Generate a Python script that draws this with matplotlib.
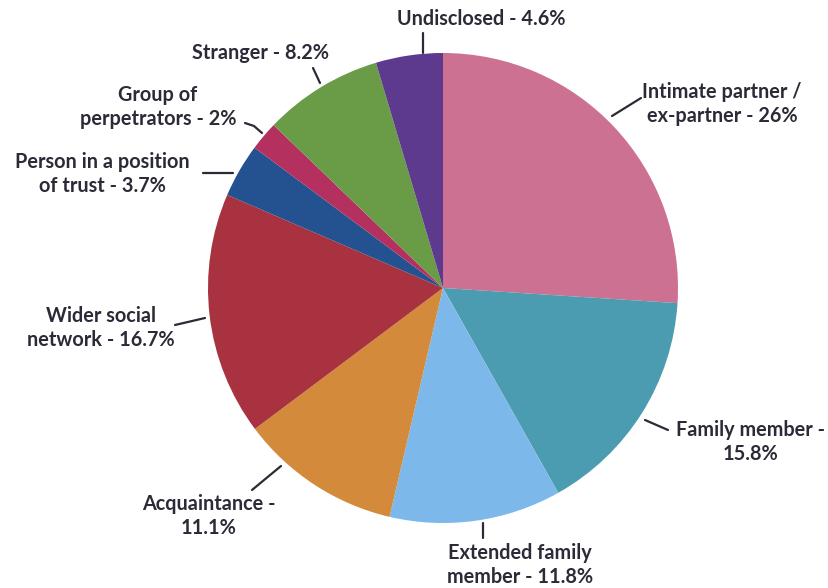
import matplotlib
matplotlib.use("Agg")
import matplotlib.pyplot as plt

# shares of perpetrator types, clockwise from 12 o'clock
labels = [
    "Intimate partner /\nex-partner - 26%",
    "Family member -\n15.8%",
    "Extended family\nmember - 11.8%",
    "Acquaintance -\n11.1%",
    "Wider social\nnetwork - 16.7%",
    "Person in a position\nof trust - 3.7%",
    "Group of\nperpetrators - 2%",
    "Stranger - 8.2%",
    "Undisclosed - 4.6%",
]
values = [26, 15.8, 11.8, 11.1, 16.7, 3.7, 2, 8.2, 4.6]
colors = ["#cd7193", "#4b9cb1", "#7cb8ea", "#d38b3b", "#a8323f",
          "#24518f", "#b3305f", "#6a9c48", "#5d3a8d"]

# label layout in pixel coords (x, y from top): text centre, leader line
W, H = 829, 588
text_pos = [(722, 104), (751, 442), (520, 565), (209, 516), (101, 328),
            (102, 174), (158, 107), (261, 53), (481, 19)]
leaders = [
    [(612, 116), (641, 98)],
    [(645, 420), (668, 430)],
    [(483, 523), (483, 538)],
    [(281, 466), (252, 490)],
    [(205, 318), (175, 325)],
    [(233, 173), (203, 173)],
    [(262, 133), (254, 126), (245, 123)],
    [(320, 83), (313, 68)],
    [(423, 53), (423, 33)],
]

TXT = "#2b2b38"

fig = plt.figure(figsize=(W / 100, H / 100), dpi=100)
ax = fig.add_axes([0, 0, 1, 1])
ax.set_xlim(0, W)
ax.set_ylim(0, H)
ax.set_aspect("equal")
ax.axis("off")

ax.pie(values, colors=colors, startangle=90, counterclock=False,
       center=(443, H - 288), radius=235,
       wedgeprops=dict(linewidth=0))

# pie() resets limits, put them back
ax.set_xlim(0, W)
ax.set_ylim(0, H)

for lab, (tx, ty), pts in zip(labels, text_pos, leaders):
    xs = [p[0] for p in pts]
    ys = [H - p[1] for p in pts]
    ax.plot(xs, ys, color=TXT, lw=1.6, solid_capstyle="round")
    ax.text(tx, H - ty, lab, ha="center", va="center", fontsize=14.3,
            family="Lato", weight="bold", color=TXT, linespacing=1.3)

fig.savefig("out.png", dpi=100)
